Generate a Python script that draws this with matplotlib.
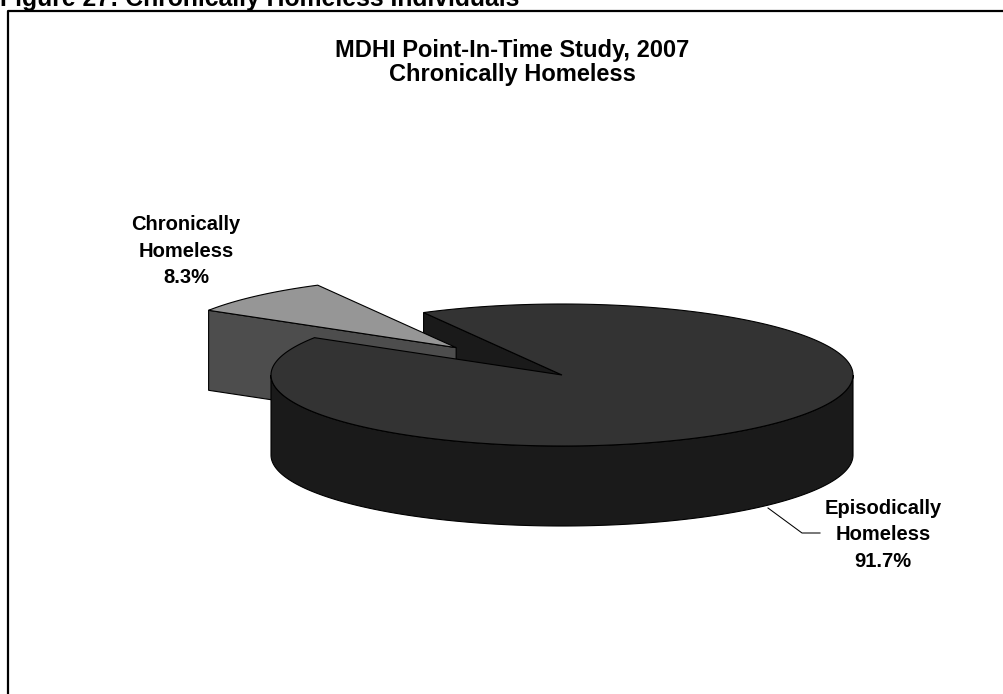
import numpy as np
import matplotlib.pyplot as plt
from matplotlib.patches import Polygon

plt.rcParams['font.family'] = ['Liberation Sans', 'DejaVu Sans']

# data
labels = ['Chronically\nHomeless', 'Episodically\nHomeless']
shares = [8.3, 91.7]
top_colors = ['#969696', '#333333']
side_colors = ['#4d4d4d', '#1a1a1a']
explode = [0.53, 0.0]
chart_title = 'MDHI Point-In-Time Study, 2007\nChronically Homeless'
caption = 'Figure 27: Chronically Homeless Individuals'

# pie geometry in pixel units
cx, cy = 562, 375
rx, ry = 291, 71
depth = 80
first_angle = 118.4

fig = plt.figure(figsize=(10.04, 6.94), dpi=100)
ax = fig.add_axes([0, 0, 1, 1])
ax.set_xlim(0, 1004)
ax.set_ylim(694, 0)
ax.axis('off')


def rim(x0, y0, t1, t2, n=240):
    t = np.radians(np.linspace(t1, t2, n))
    return x0 + rx * np.cos(t), y0 - ry * np.sin(t)


def radial_face(x0, y0, t, color, z):
    tr = np.radians(t)
    ex, ey = x0 + rx * np.cos(tr), y0 - ry * np.sin(tr)
    pts = [(x0, y0), (ex, ey), (ex, ey + depth), (x0, y0 + depth)]
    ax.add_patch(Polygon(pts, closed=True, fc=color, ec='black', lw=0.8, zorder=z))


def outer_side(x0, y0, t1, t2, color, z):
    # only the front half of the rim faces the viewer
    lo, hi = max(t1, 180), min(t2, 360)
    if lo >= hi:
        return
    xs, ys = rim(x0, y0, lo, hi)
    pts = np.column_stack([np.r_[xs, xs[::-1]], np.r_[ys, ys[::-1] + depth]])
    ax.add_patch(Polygon(pts, closed=True, fc=color, ec='black', lw=0.8, zorder=z))


def top_face(x0, y0, t1, t2, color, z):
    xs, ys = rim(x0, y0, t1, t2)
    pts = np.column_stack([np.r_[x0, xs], np.r_[y0, ys]])
    ax.add_patch(Polygon(pts, closed=True, fc=color, ec='black', lw=0.8, zorder=z))


spans = np.array(shares) / sum(shares) * 360
ends = first_angle + np.cumsum(spans)
starts = ends - spans
mids = np.radians((starts + ends) / 2)
centers = [(cx + e * rx * np.cos(m), cy - e * ry * np.sin(m)) for e, m in zip(explode, mids)]

# back faces first, then the small wedge, then the big wedge in front
(sx, sy), (mx, my) = centers
radial_face(mx, my, ends[1], side_colors[1], 1)
radial_face(sx, sy, ends[0], side_colors[0], 2)
outer_side(sx, sy, starts[0], ends[0], side_colors[0], 2)
top_face(sx, sy, starts[0], ends[0], top_colors[0], 3)
outer_side(mx, my, starts[1], ends[1], side_colors[1], 4)
top_face(mx, my, starts[1], ends[1], top_colors[1], 5)

# slice labels (y is the baseline of the last line)
ax.text(186, 283, f'{labels[0]}\n{shares[0]:.1f}%', ha='center', va='baseline',
        fontsize=14.5, fontweight='bold', linespacing=1.5, zorder=6)
ax.text(883, 567, f'{labels[1]}\n{shares[1]:.1f}%', ha='center', va='baseline',
        fontsize=14.5, fontweight='bold', linespacing=1.5, zorder=6)
ax.plot([768, 802, 820], [508, 533, 533], color='black', lw=0.75, zorder=6)

# chart title and frame
ax.text(512, 81, chart_title, ha='center', va='baseline', fontsize=17,
        fontweight='bold', linespacing=1.08)
ax.plot([8, 8, 1010], [700, 11, 11], color='black', lw=1.6, clip_on=False)
ax.text(0, 6, caption, ha='left', va='baseline', fontsize=17.8, fontweight='bold')

fig.savefig('out.png', dpi=100)
